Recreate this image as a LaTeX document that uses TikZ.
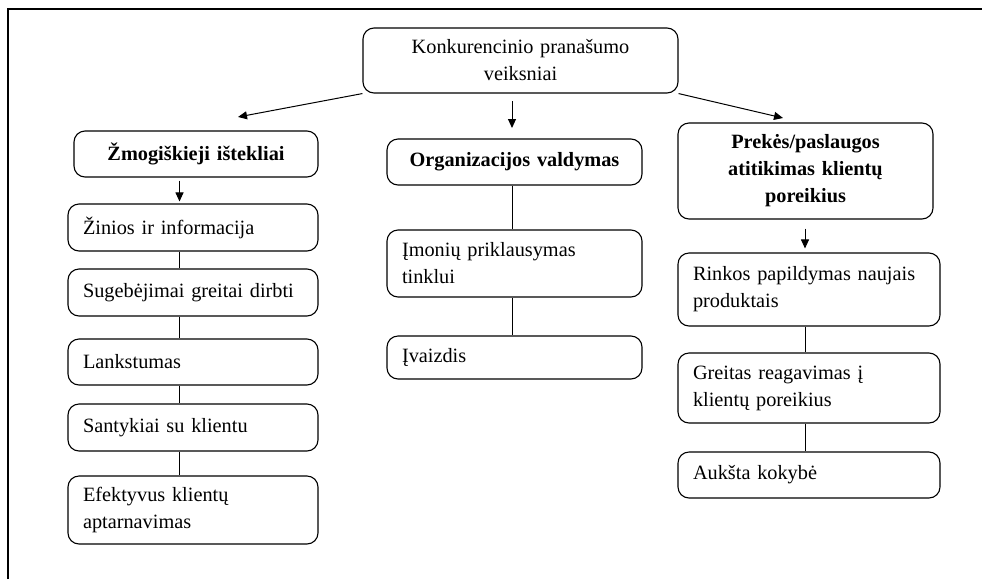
\documentclass[tikz,border=0pt]{standalone}
\usepackage{fontspec}
\setmainfont{Liberation Serif}
\usetikzlibrary{arrows.meta,calc}
\begin{document}
\begin{tikzpicture}[x=1pt,y=-1pt,
  box/.style={draw, rounded corners=11pt, line width=1.1pt, inner xsep=15pt, inner ysep=0pt,
    align=left, font=\fontsize{20.3}{27}\selectfont},
  head/.style={box, align=center, font=\fontsize{20.3}{27}\selectfont\bfseries},
  conn/.style={line width=1pt},
  arr/.style={line width=1pt, -{Triangle[length=9pt,width=8pt]}}]
\useasboundingbox (0,0) rectangle (982,579);
% frame
\draw[line width=1.1pt] (8,579) -- (8,9) -- (982,9);
% top node
\node[box, align=center, text width=285pt, minimum height=65pt] (top) at (520.5,60.5)
  {Konkurencinio pranašumo\\veiksniai};
% headers
\node[head, text width=214pt, minimum height=46pt] (lh) at (196,154) {Žmogiškieji ištekliai};
\node[head, text width=225pt, minimum height=46pt] (mh) at (514.5,162) {Organizacijos valdymas};
\node[head, text width=225pt, minimum height=96pt] (rh) at (805.5,171) {Prekės/paslaugos\\atitikimas klientų\\poreikius};
% left column
\node[box, text width=220pt, minimum height=47pt] (l1) at (193,227.5) {Žinios ir informacija};
\node[box, text width=220pt, minimum height=47pt] (l2) at (193,292.5) {Sugebėjimai greitai dirbti};
\node[box, text width=220pt, minimum height=46pt] (l3) at (193,362) {Lankstumas};
\node[box, text width=220pt, minimum height=47pt] (l4) at (193,427.5) {Santykiai su klientu};
\node[box, text width=220pt, minimum height=68pt] (l5) at (193,510) {Efektyvus klientų\\aptarnavimas};
% middle column
\node[box, text width=225pt, minimum height=67pt] (m1) at (514.5,263.5) {Įmonių priklausymas\\tinklui};
\node[box, text width=225pt, minimum height=43pt] (m2) at (514.5,357.5) {Įvaizdis};
% right column
\node[box, text width=232pt, minimum height=73pt] (r1) at (809,289.5) {Rinkos papildymas naujais\\produktais};
\node[box, text width=232pt, minimum height=70pt] (r2) at (809,388) {Greitas reagavimas į\\klientų poreikius};
\node[box, text width=232pt, minimum height=46pt] (r3) at (809,475) {Aukšta kokybė};
% helper coordinates
\coordinate (lx) at (179.5,0);
\coordinate (mx) at (512,0);
\coordinate (rx) at (805,0);
\coordinate (aL) at (238,117);
\coordinate (aR) at (783,118);
\coordinate (mS) at (512,101);
\coordinate (mE) at (512,128);
% arrows from top
\draw[arr] (top.south west) -- (aL);
\draw[arr] (top.south east) -- (aR);
\draw[arr] (mS) -- (mE);
% left column
\draw[arr, shorten >=2pt, shorten <=3pt] (lh.south -| lx) -- (l1.north -| lx);
\draw[conn] (l1.south -| lx) -- (l2.north -| lx);
\draw[conn] (l2.south -| lx) -- (l3.north -| lx);
\draw[conn] (l3.south -| lx) -- (l4.north -| lx);
\draw[conn] (l4.south -| lx) -- (l5.north -| lx);
% middle column
\draw[conn] (mh.south -| mx) -- (m1.north -| mx);
\draw[conn] (m1.south -| mx) -- (m2.north -| mx);
% right column
\draw[arr, shorten >=4pt, shorten <=9pt] (rh.south -| rx) -- (r1.north -| rx);
\draw[conn] (r1.south -| rx) -- (r2.north -| rx);
\draw[conn] (r2.south -| rx) -- (r3.north -| rx);
\end{tikzpicture}
\end{document}
